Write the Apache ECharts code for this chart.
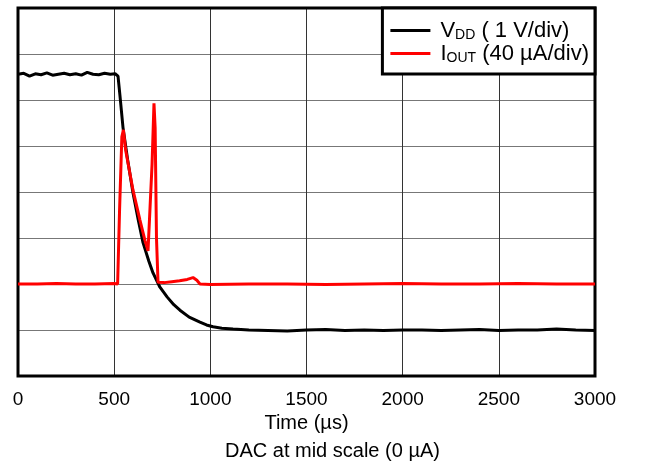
<!DOCTYPE html>
<html>
<head>
<meta charset="utf-8">
<script src="https://cdn.jsdelivr.net/npm/echarts@6/dist/echarts.min.js"></script>
<style>
  html, body { margin: 0; padding: 0; background: #fff; }
  #chart { width: 646px; height: 466px; }
</style>
</head>
<body>
<div id="chart"></div>
<script>
// values are in screen divisions (y axis 0..8), time in µs
const vddTime = [0, 30, 60, 90, 120, 150, 180, 210, 240, 270, 300, 330, 360, 390, 420, 450, 480, 505, 520, 530, 546, 570, 598, 625, 650, 680, 702, 738, 775, 810, 842, 890, 946, 980, 1014, 1060, 1118, 1200, 1300, 1400, 1500, 1600, 1700, 1800, 1900, 2000, 2100, 2200, 2300, 2400, 2500, 2600, 2700, 2800, 2900, 3000]
const vddLevel = [6.56, 6.58, 6.52, 6.57, 6.55, 6.59, 6.54, 6.56, 6.58, 6.55, 6.57, 6.54, 6.6, 6.56, 6.55, 6.58, 6.56, 6.57, 6.52, 6.1, 5.4, 4.7, 3.98, 3.4, 2.9, 2.5, 2.24, 1.93, 1.72, 1.55, 1.43, 1.28, 1.17, 1.11, 1.07, 1.04, 1.02, 1.0, 0.99, 0.98, 1.0, 1.01, 0.99, 1.0, 0.99, 1.0, 1.0, 0.99, 1.0, 1.01, 0.99, 1.0, 1.0, 1.02, 1.0, 0.99]

const ioutTime = [0, 100, 200, 300, 400, 500, 518, 528, 540, 548, 560, 598, 634, 660, 676, 686, 697, 707, 713, 720, 728, 760, 800, 840, 880, 910, 930, 946, 1000, 1200, 1400, 1600, 1800, 2000, 2200, 2400, 2600, 2800, 3000]
const ioutLevel = [2.0, 2.0, 2.01, 2.0, 2.0, 2.01, 2.0, 3.6, 5.2, 5.35, 4.9, 4.04, 3.39, 2.95, 2.72, 2.76, 4.6, 5.93, 5.4, 3.0, 2.04, 2.03, 2.05, 2.07, 2.1, 2.14, 2.08, 2.0, 1.99, 2.0, 2.0, 1.99, 2.0, 2.01, 2.0, 2.0, 2.01, 2.0, 2.0]

const xTicks = [0, 500, 1000, 1500, 2000, 2500, 3000]

const pairs = (xs, ys) => xs.map((x, i) => [x, ys[i]])

const chart = echarts.init(document.getElementById('chart'))

const legendRich = {
  f: { fontFamily: 'Liberation Sans', fontSize: 22, color: '#000', lineHeight: 22, padding: [0, 0, 0, 5] },
  n: { fontFamily: 'Liberation Sans', fontSize: 22, color: '#000', lineHeight: 22 },
  s: { fontFamily: 'Liberation Sans', fontSize: 14, color: '#000', lineHeight: 22, padding: [9, 0, 0, 0] },
}

chart.setOption({
  animation: false,
  backgroundColor: '#fff',
  title: {
    text: 'DAC at mid scale (0 µA)',
    left: 225,
    top: 441,
    padding: 0,
    textStyle: { fontFamily: 'Liberation Sans', fontSize: 20, fontWeight: 'normal', color: '#000' },
  },
  grid: {
    left: 18,
    right: 51,
    top: 8,
    bottom: 90,
    show: true,
    borderColor: '#000',
    borderWidth: 3,
    z: 3,
  },
  legend: {
    orient: 'vertical',
    right: 51,
    top: 8,
    padding: [11, 6, 9, 8],
    itemGap: 0,
    itemWidth: 40,
    itemHeight: 3,
    icon: 'rect',
    backgroundColor: '#fff',
    borderColor: '#000',
    borderWidth: 3,
    borderRadius: 0,
    data: ['VDD', 'IOUT'],
    formatter: name => name === 'VDD'
      ? '{f|V}{s|DD}{n| ( 1 V/div)}'
      : '{f|I}{s|OUT}{n| (40 µA/div)}',
    textStyle: { rich: legendRich },
  },
  xAxis: {
    type: 'value',
    min: xTicks[0],
    max: xTicks[xTicks.length - 1],
    interval: 500,
    name: 'Time (µs)',
    nameLocation: 'middle',
    nameGap: 34,
    nameTextStyle: { fontFamily: 'Liberation Sans', fontSize: 20, color: '#000' },
    axisLine: { show: false },
    axisTick: { show: false },
    axisLabel: { fontFamily: 'Liberation Sans', fontSize: 19, color: '#000', margin: 14, formatter: v => String(v) },
    splitLine: { show: true, lineStyle: { color: '#333', width: 1 } },
  },
  yAxis: {
    type: 'value',
    min: 0,
    max: 8,
    interval: 1,
    axisLine: { show: false },
    axisTick: { show: false },
    axisLabel: { show: false },
    splitLine: { show: true, lineStyle: { color: '#777', width: 1 } },
  },
  series: [
    {
      name: 'VDD',
      type: 'line',
      data: pairs(vddTime, vddLevel),
      showSymbol: false,
      color: '#000',
      lineStyle: { color: '#000', width: 3 },
    },
    {
      name: 'IOUT',
      type: 'line',
      data: pairs(ioutTime, ioutLevel),
      showSymbol: false,
      color: '#ff0000',
      lineStyle: { color: '#ff0000', width: 3 },
    },
  ],
})
</script>
</body>
</html>
